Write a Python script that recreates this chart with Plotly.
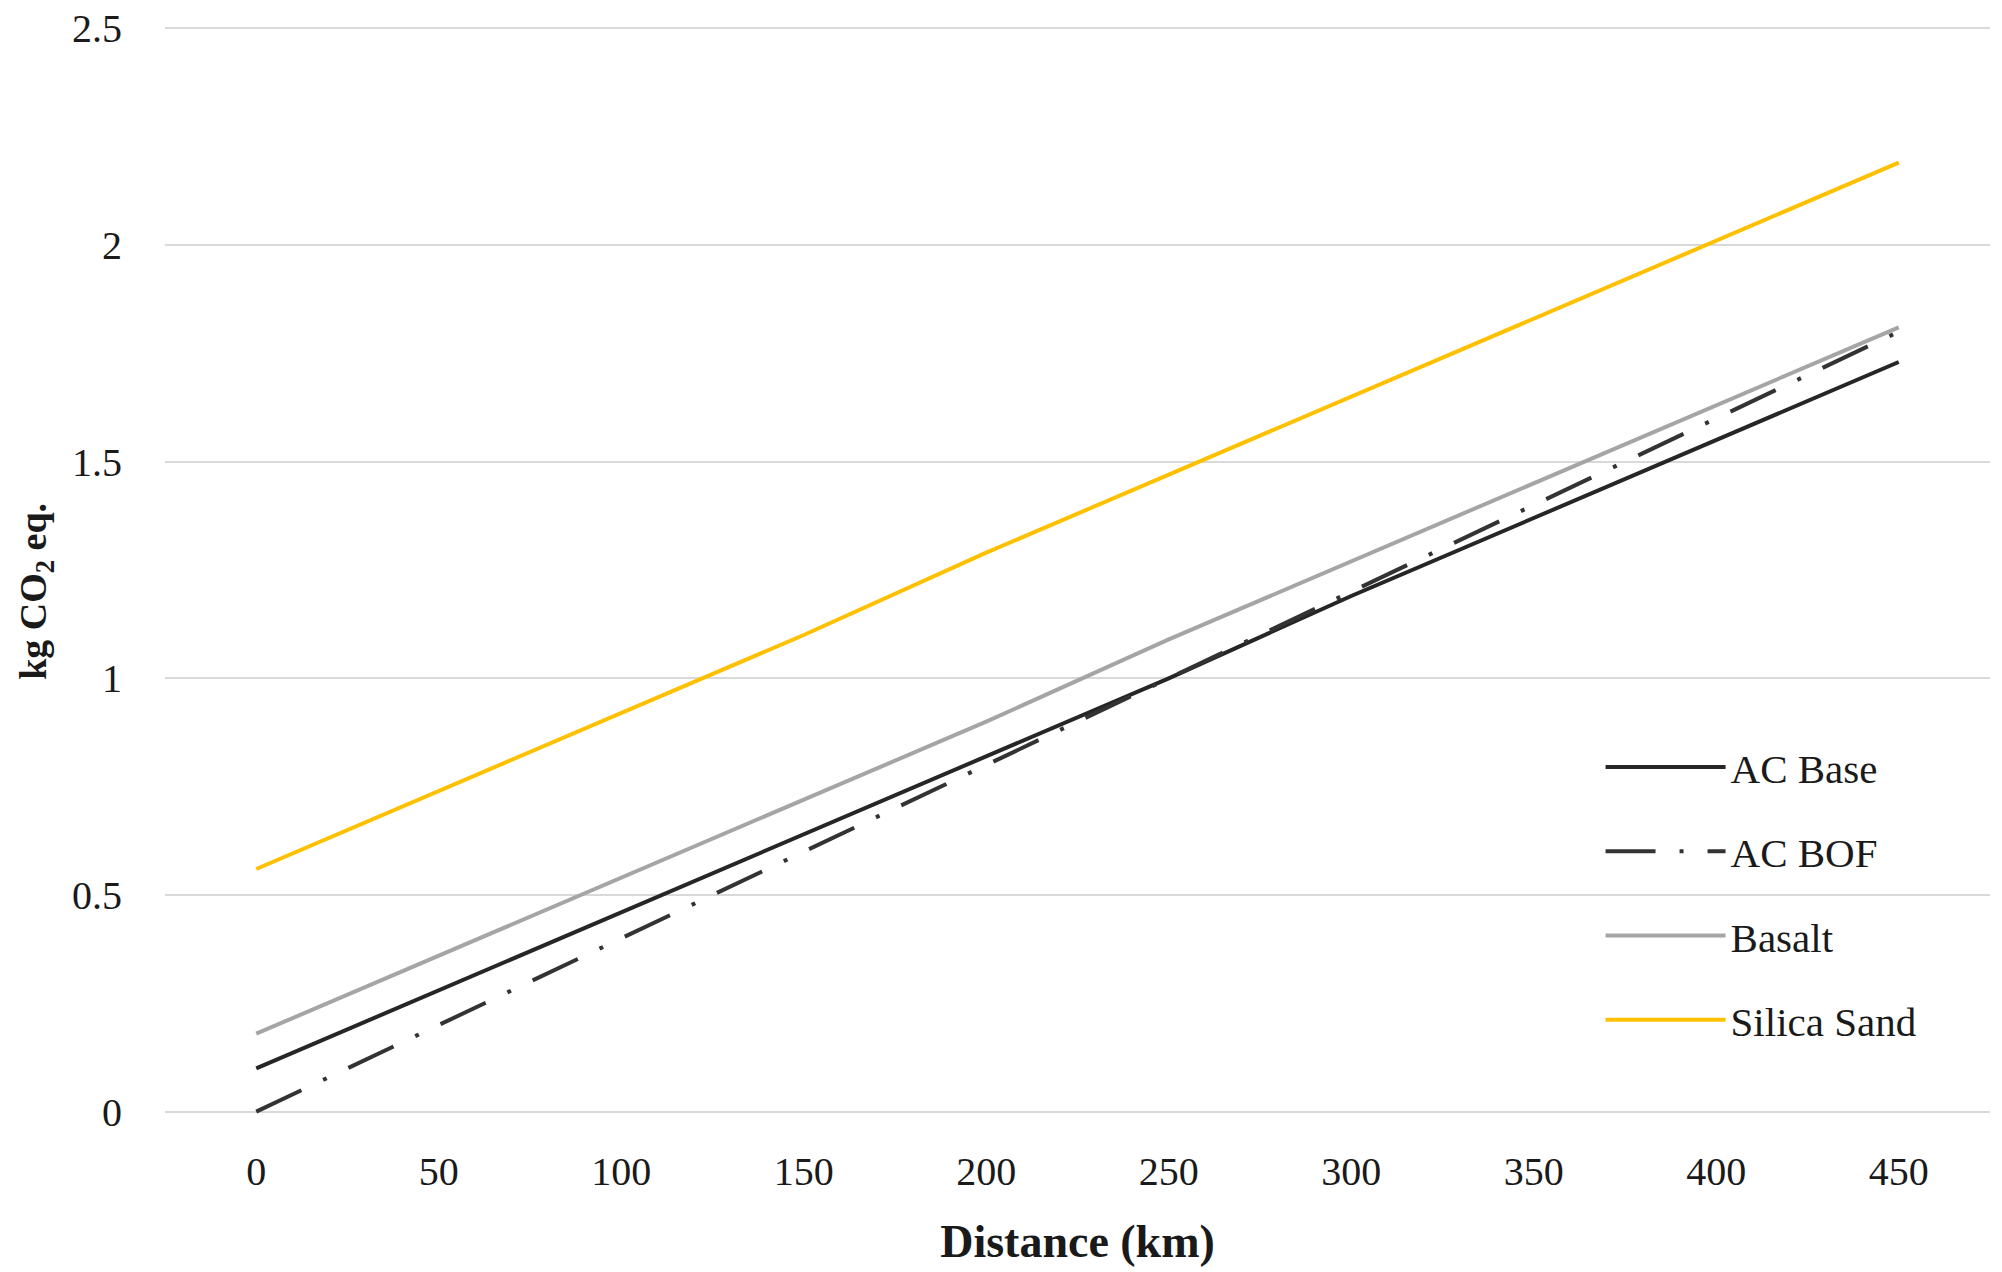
import plotly.graph_objects as go

distance = [0, 50, 100, 150, 200, 250, 300, 350, 400, 450]
ac_base = [0.10, 0.28, 0.46, 0.64, 0.82, 1.00, 1.19, 1.37, 1.55, 1.73]
ac_bof = [0.00, 0.20, 0.40, 0.60, 0.80, 1.00, 1.20, 1.40, 1.60, 1.80]
basalt = [0.18, 0.36, 0.54, 0.72, 0.90, 1.09, 1.27, 1.45, 1.63, 1.81]
silica_sand = [0.56, 0.74, 0.92, 1.10, 1.29, 1.47, 1.65, 1.83, 2.01, 2.19]

series_names = ["AC Base", "AC BOF", "Basalt", "Silica Sand"]
y_ticks = [0, 0.5, 1, 1.5, 2, 2.5]

FONT = "Liberation Serif, Times New Roman, serif"
TXT = "#1a1a1a"

styles = [
    dict(color="#262626", width=4, dash="solid"),
    dict(color="#333333", width=4, dash="50px,24px,4px,24px"),
    dict(color="#A5A5A5", width=4, dash="solid"),
    dict(color="#FFC000", width=4, dash="solid"),
]

fig = go.Figure()
for i, (name, ys) in enumerate(zip(series_names, [ac_base, ac_bof, basalt, silica_sand])):
    fig.add_trace(go.Scatter(
        x=distance, y=ys, mode="lines", name=name,
        line=styles[i], legendgroup=name,
    ))

fig.update_layout(
    width=2002, height=1272,
    margin=dict(l=165, r=12, t=24, b=156),
    paper_bgcolor="white", plot_bgcolor="white",
    font=dict(family=FONT, size=40, color=TXT),
    showlegend=True,
    legend=dict(
        x=0.7866, xanchor="left", y=0.35, yanchor="top",
        itemwidth=120, tracegroupgap=28, traceorder="grouped",
        font=dict(family=FONT, size=41, color=TXT),
        bgcolor="rgba(0,0,0,0)",
    ),
    annotations=[dict(
        text="<b>kg CO<sub>2</sub> eq.</b>", textangle=-90,
        xref="paper", yref="paper", x=0, y=0.48, xshift=-129,
        xanchor="center", yanchor="middle", showarrow=False,
        font=dict(family=FONT, size=38, color=TXT),
    )],
)

fig.update_xaxes(
    range=[-25, 475], tickmode="array", tickvals=distance,
    ticktext=[str(d) for d in distance],
    showgrid=False, zeroline=False, showline=False, ticks="",
    ticklabelstandoff=28, automargin=False, ticklabeloverflow="allow",
    tickfont=dict(family=FONT, size=40, color=TXT),
    title=dict(text="<b>Distance (km)</b>", standoff=31,
               font=dict(family=FONT, size=46, color=TXT)),
)
fig.update_yaxes(
    range=[-0.01, 2.51], tickmode="array", tickvals=y_ticks,
    ticktext=["0", "0.5", "1", "1.5", "2", "2.5"],
    showgrid=True, gridcolor="#D9D9D9", gridwidth=2,
    zeroline=False, showline=False, ticks="",
    ticklabelstandoff=42, automargin=False, ticklabeloverflow="allow",
    tickfont=dict(family=FONT, size=40, color=TXT),
)

fig.write_html(
    "out.html",
    config={"displayModeBar": False},
    post_script="document.body.style.margin='0px';",
)
